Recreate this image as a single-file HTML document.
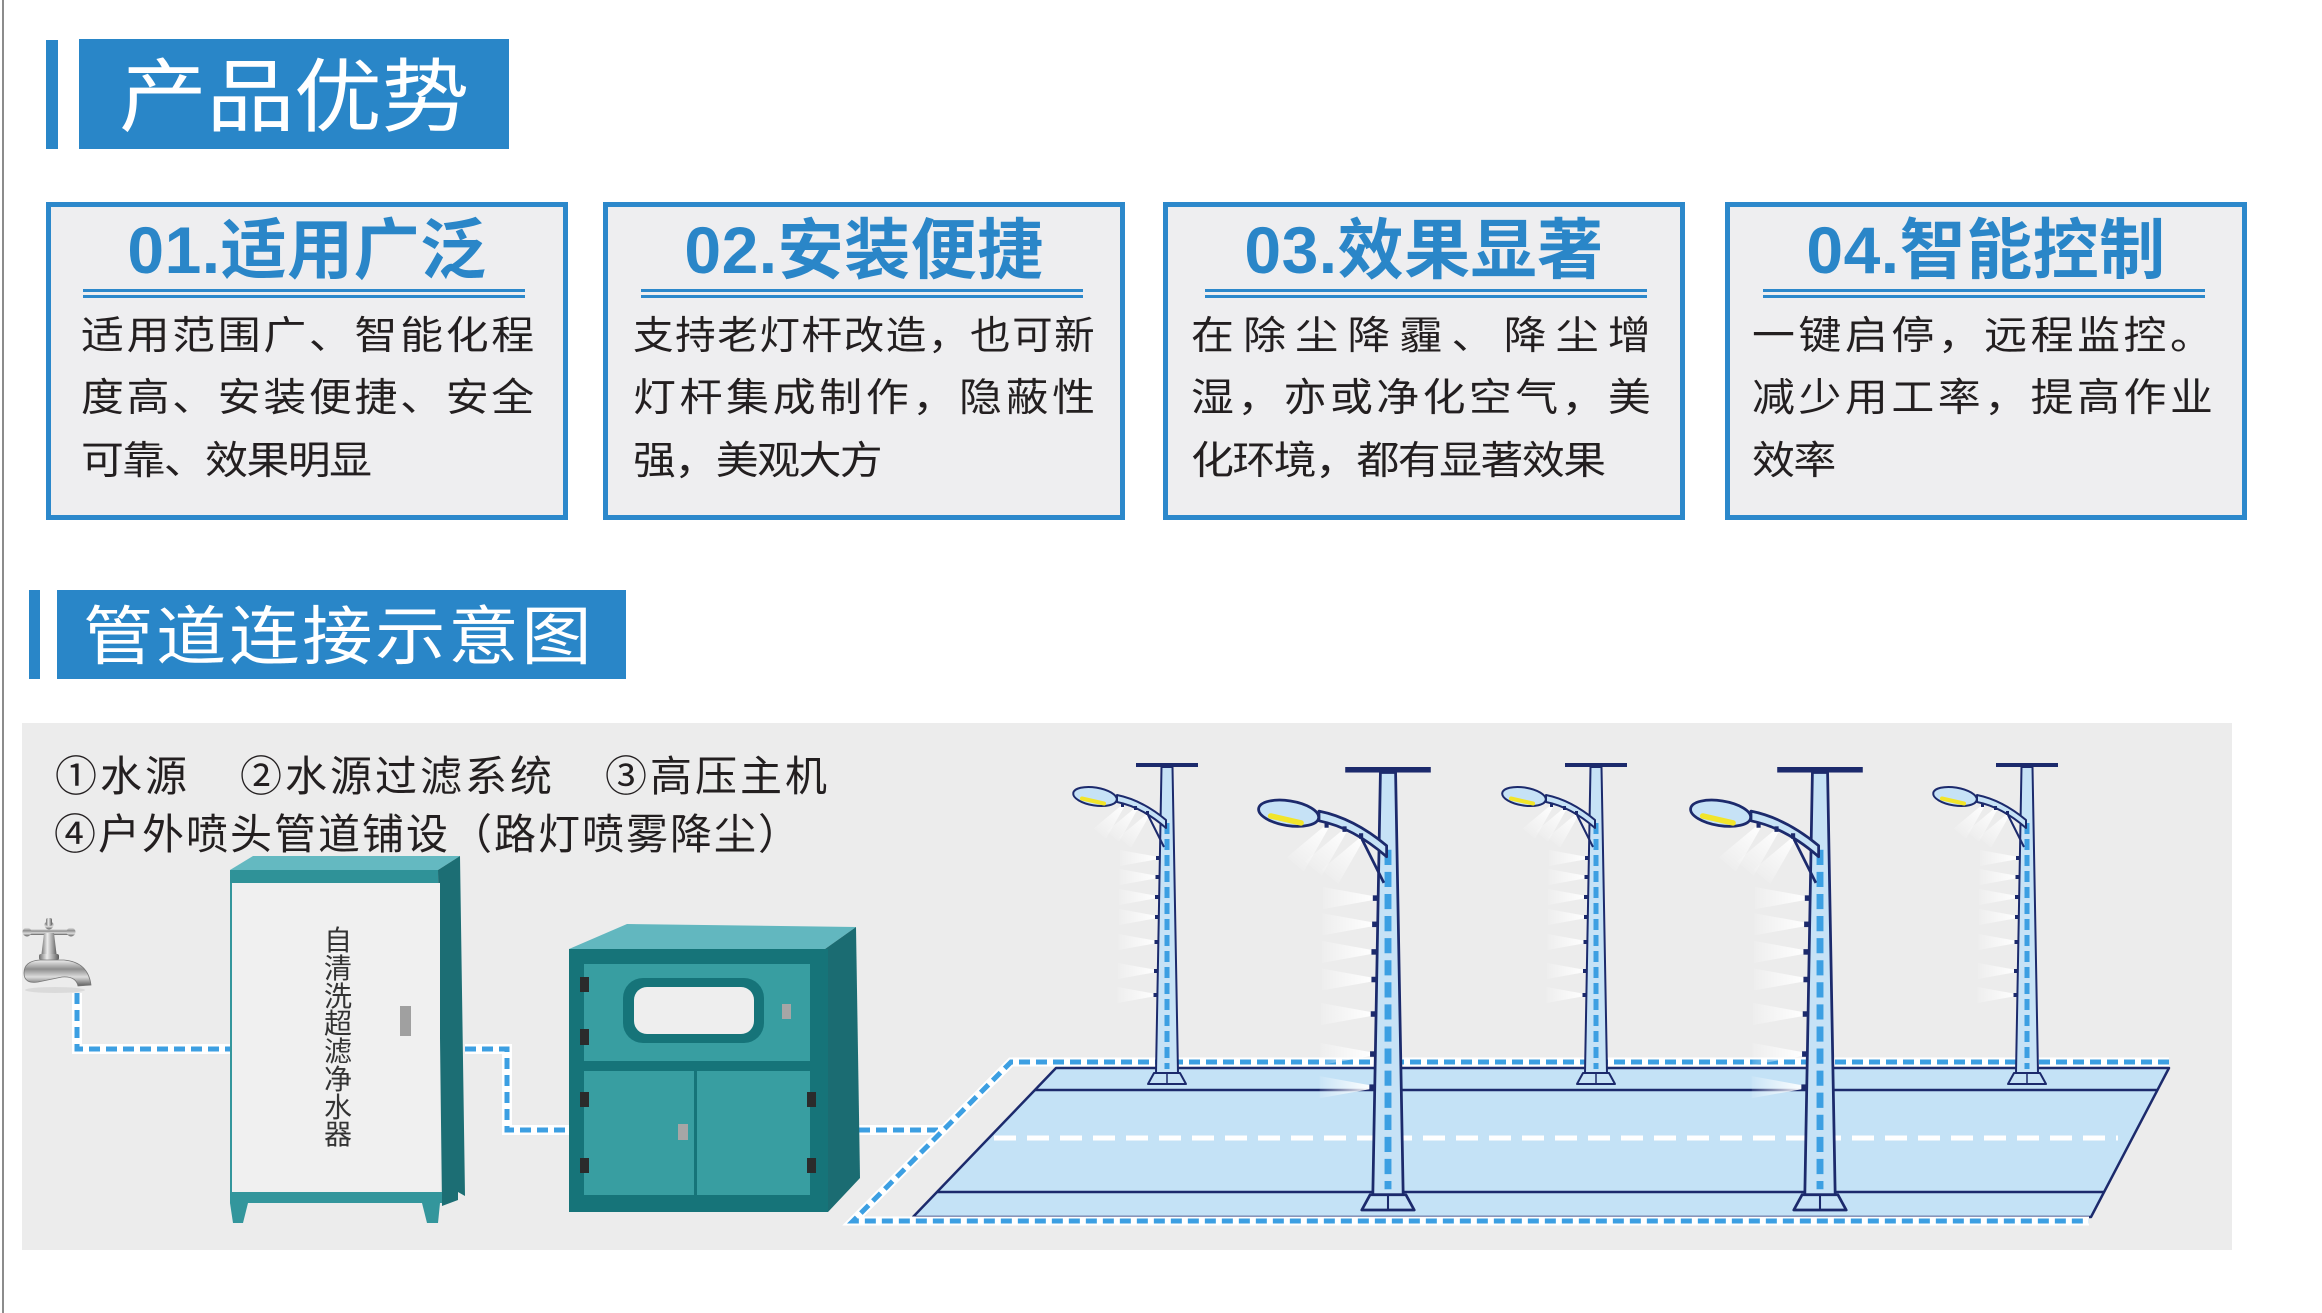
<!DOCTYPE html>
<html><head><meta charset="utf-8">
<style>
html,body{margin:0;padding:0;}
body{width:2322px;height:1313px;position:relative;overflow:hidden;background:#fff;font-family:"Liberation Sans","Noto Sans CJK SC",sans-serif;}
.a{position:absolute;line-height:1;white-space:nowrap;}
.blue{position:absolute;background:#2986c8;}
.card{position:absolute;top:202px;width:512px;height:308px;border:5px solid #2c88cb;background:#eeeef0;}
.ct{position:absolute;top:217px;width:522px;font-size:66px;font-weight:bold;color:#2a86c8;text-align:center;line-height:1;white-space:nowrap;letter-spacing:0.5px;}
.dl{position:absolute;height:3px;background:#2c88cb;width:442px;}
.bt{position:absolute;font-size:39px;line-height:1;color:#231f20;white-space:nowrap;letter-spacing:-1.4px;transform:scaleX(1.1);transform-origin:0 0;}
.j{text-align:justify;text-align-last:justify;white-space:normal;letter-spacing:0;}
.ttl{position:absolute;color:#fff;font-weight:400;line-height:1;white-space:nowrap;transform:scaleX(1.1);transform-origin:0 0;}
.lg{position:absolute;font-size:42px;line-height:1;color:#231f20;white-space:nowrap;letter-spacing:3px;}
</style></head><body>

<svg width="2322" height="1313" style="position:absolute;left:0;top:0" xmlns="http://www.w3.org/2000/svg">
<defs>
 <linearGradient id="sg" x1="1" y1="0" x2="0" y2="0">
  <stop offset="0" stop-color="#fff" stop-opacity="0.95"/>
  <stop offset="1" stop-color="#fff" stop-opacity="0.1"/>
 </linearGradient>
 <linearGradient id="silver" x1="0" y1="0" x2="0" y2="1">
  <stop offset="0" stop-color="#eeeeee"/><stop offset="0.35" stop-color="#8e8e8e"/><stop offset="0.65" stop-color="#dcdcdc"/><stop offset="1" stop-color="#5e5e5e"/>
 </linearGradient>
 <linearGradient id="silverh" x1="0" y1="0" x2="1" y2="0">
  <stop offset="0" stop-color="#6e6e6e"/><stop offset="0.4" stop-color="#ededed"/><stop offset="0.75" stop-color="#9a9a9a"/><stop offset="1" stop-color="#5a5a5a"/>
 </linearGradient>
 <polygon id="spr" points="0,-1.5 0,1.5 -36,8 -36,-8" fill="url(#sg)"/>
 <g id="lamp">
  <use href="#spr" x="-11" y="95"/>
  <use href="#spr" x="-11.5" y="114"/>
  <use href="#spr" x="-12" y="134"/>
  <use href="#spr" x="-12" y="154"/>
  <use href="#spr" x="-12.5" y="179"/>
  <use href="#spr" x="-13" y="208"/>
  <use href="#spr" x="-13.5" y="232"/>
  <use href="#spr" transform="translate(-44,43) rotate(-50)"/>
  <use href="#spr" transform="translate(-31,46) rotate(-50)"/>
  <use href="#spr" transform="translate(-19,52) rotate(-50)"/>
  <rect x="-31" y="0" width="62" height="4" fill="#1c2a6c"/>
  <polygon points="-5.5,4 5.5,4 11,310 -11,310" fill="#c6e2f6" stroke="#1c2a6c" stroke-width="2" stroke-linejoin="round"/>
  <line x1="0" y1="60" x2="0" y2="306" stroke="#3c9fe2" stroke-width="5" stroke-dasharray="11 5"/>
  <path d="M-50,32 Q-25,37 -1,57 L-1,65 Q-25,44 -50,39 Z" fill="#c6e2f6" stroke="#1c2a6c" stroke-width="2" stroke-linejoin="round"/>
  <line x1="-19" y1="52" x2="-3" y2="84" stroke="#1c2a6c" stroke-width="2"/>
  <ellipse cx="-72" cy="33.5" rx="22" ry="9" transform="rotate(9 -72 33.5)" fill="#c6e2f6" stroke="#1c2a6c" stroke-width="2"/>
  <line x1="-85" y1="35.5" x2="-63" y2="40.5" stroke="#f2e52a" stroke-width="4" stroke-linecap="round"/>
  <rect x="-46" y="40" width="3" height="4" fill="#1c2a6c"/>
  <rect x="-33" y="43" width="3" height="4" fill="#1c2a6c"/>
  <rect x="-21" y="48" width="3" height="4" fill="#1c2a6c"/>
  <rect x="-11" y="93" width="4" height="4" fill="#1c2a6c"/>
  <rect x="-11.5" y="112" width="4" height="4" fill="#1c2a6c"/>
  <rect x="-12" y="132" width="4" height="4" fill="#1c2a6c"/>
  <rect x="-12" y="152" width="4" height="4" fill="#1c2a6c"/>
  <rect x="-12.5" y="177" width="4" height="4" fill="#1c2a6c"/>
  <rect x="-13" y="206" width="4" height="4" fill="#1c2a6c"/>
  <rect x="-13.5" y="230" width="4" height="4" fill="#1c2a6c"/>
  <polygon points="-13,310 13,310 19,321 -19,321" fill="#c6e2f6" stroke="#1c2a6c" stroke-width="2" stroke-linejoin="round"/>
  <line x1="0" y1="310" x2="0" y2="321" stroke="#1c2a6c" stroke-width="1.5"/>
 </g>
</defs>

<rect x="2" y="0" width="2" height="1313" fill="#8c8c8c"/>
<rect x="22" y="723" width="2210" height="527" fill="#ececec"/>

<!-- pipes -->
<g fill="none" stroke-linejoin="miter">
 <path d="M77,993 V1049 H230" stroke="#fff" stroke-width="10"/>
 <path d="M77,993 V1049 H230" stroke="#3c9fe2" stroke-width="5" stroke-dasharray="11 6"/>
 <path d="M465,1049 H507 V1130 H569" stroke="#fff" stroke-width="10"/>
 <path d="M465,1049 H507 V1130 H569" stroke="#3c9fe2" stroke-width="5" stroke-dasharray="11 6"/>
 <path d="M859,1130 H942" stroke="#fff" stroke-width="10"/>
 <path d="M859,1130 H942" stroke="#3c9fe2" stroke-width="5" stroke-dasharray="11 6"/>
</g>

<!-- road -->
<polygon points="1056,1068 2169,1068 2091,1217 913,1217" fill="#c4e2f6" stroke="#1c2a6c" stroke-width="2.5" stroke-linejoin="round"/>
<line x1="1035" y1="1090" x2="2157" y2="1090" stroke="#1c2a6c" stroke-width="2.5"/>
<line x1="937" y1="1192" x2="2104" y2="1192" stroke="#1c2a6c" stroke-width="2.5"/>
<line x1="994" y1="1138" x2="2118" y2="1138" stroke="#fff" stroke-width="5" stroke-dasharray="22 11"/>

<!-- dashed outline -->
<g fill="none">
 <path d="M2169,1062 H1011 L853,1221 H2089" stroke="#fff" stroke-width="9"/>
 <path d="M2169,1062 H1011 L853,1221 H2089" stroke="#3c9fe2" stroke-width="5" stroke-dasharray="11 6"/>
</g>

<!-- lamps -->
<use href="#lamp" transform="translate(1167,763)"/>
<use href="#lamp" transform="translate(1388,767) scale(1.38)"/>
<use href="#lamp" transform="translate(1596,763)"/>
<use href="#lamp" transform="translate(1820,767) scale(1.38)"/>
<use href="#lamp" transform="translate(2027,763)"/>

<!-- faucet -->
<g>
 <ellipse cx="55" cy="990" rx="30" ry="3" fill="#cfcfcf" opacity="0.6"/>
 <rect x="25" y="929" width="48" height="6" rx="3" fill="url(#silver)"/>
 <circle cx="27" cy="932" r="4.5" fill="url(#silver)"/>
 <circle cx="71" cy="932" r="4.5" fill="url(#silver)"/>
 <circle cx="49" cy="925" r="4.5" fill="url(#silver)"/>
 <rect x="46" y="918" width="6" height="8" rx="2" fill="url(#silverh)"/>
 <path d="M44,933 L54,933 L57,958 L41,958 Z" fill="url(#silverh)"/>
 <rect x="39" y="954" width="20" height="6" rx="2" fill="url(#silverh)"/>
 <path d="M24,973 Q24,961 40,960 L64,960 Q88,962 91,985 L78,986 Q76,976 62,977 L38,982 Q24,984 24,973 Z" fill="url(#silver)" stroke="#777" stroke-width="0.8"/>
</g>

<!-- cabinet 1 -->
<g>
 <polygon points="230,870 253,856 460,856 438,870" fill="#64b9c1"/>
 <polygon points="438,870 460,856 465,1196 458,1192 458,1200 442,1206" fill="#1c6e74"/>
 <rect x="230" y="870" width="208" height="13" fill="#2f9298"/>
 <rect x="230" y="883" width="210" height="309" fill="#f0f0f0"/>
 <rect x="230" y="883" width="2" height="309" fill="#33969c"/>
 <rect x="230" y="1192" width="212" height="11" fill="#33969c"/>
 <polygon points="230,1203 248,1203 243,1223 233,1223" fill="#33969c"/>
 <polygon points="422,1203 440,1203 438,1223 427,1223" fill="#33969c"/>
 <rect x="400" y="1006" width="11" height="30" fill="#a0a0a0"/>
</g>

<!-- cabinet 2 -->
<g>
 <polygon points="569,949 627,924 856,927 825,949" fill="#62b7bf"/>
 <polygon points="825,949 856,927 860,1178 828,1212" fill="#1b6c72"/>
 <rect x="569" y="949" width="259" height="263" fill="#167479"/>
 <rect x="584" y="964" width="226" height="97" fill="#389ea1"/>
 <rect x="623" y="978" width="141" height="65" rx="20" fill="#167479"/>
 <rect x="634" y="987" width="120" height="47" rx="13" fill="#eeeeee"/>
 <rect x="782" y="1004" width="9" height="15" fill="#a6a6a6"/>
 <rect x="584" y="1071" width="110" height="124" fill="#389ea1"/>
 <rect x="697" y="1071" width="113" height="124" fill="#389ea1"/>
 <rect x="678" y="1124" width="10" height="16" fill="#a6a6a6"/>
 <g fill="#2b2b2b">
  <rect x="580" y="977" width="9" height="15"/>
  <rect x="580" y="1029" width="9" height="16"/>
  <rect x="580" y="1092" width="9" height="15"/>
  <rect x="580" y="1158" width="9" height="15"/>
  <rect x="807" y="1092" width="9" height="15"/>
  <rect x="807" y="1158" width="9" height="15"/>
 </g>
</g>
</svg>

<!-- header 1 -->
<div class="blue" style="left:46px;top:40px;width:12px;height:109px;"></div>
<div class="blue" style="left:79px;top:39px;width:430px;height:110px;"></div>
<div class="ttl" style="left:119px;top:58px;font-size:80px;letter-spacing:-0.5px;">产品优势</div>

<!-- cards -->
<div class="card" style="left:46px;"></div>
<div class="card" style="left:603px;"></div>
<div class="card" style="left:1163px;"></div>
<div class="card" style="left:1725px;"></div>

<div class="ct" style="left:46px;">01.适用广泛</div>
<div class="ct" style="left:603px;">02.安装便捷</div>
<div class="ct" style="left:1163px;">03.效果显著</div>
<div class="ct" style="left:1725px;">04.智能控制</div>

<div class="dl" style="left:83px;top:289px;"></div><div class="dl" style="left:83px;top:295px;height:2.5px;"></div>
<div class="dl" style="left:641px;top:289px;"></div><div class="dl" style="left:641px;top:295px;height:2.5px;"></div>
<div class="dl" style="left:1205px;top:289px;"></div><div class="dl" style="left:1205px;top:295px;height:2.5px;"></div>
<div class="dl" style="left:1763px;top:289px;"></div><div class="dl" style="left:1763px;top:295px;height:2.5px;"></div>

<div class="bt j" style="left:81px;top:317px;width:412px;">适用范围广、智能化程</div>
<div class="bt j" style="left:81px;top:379px;width:412px;">度高、安装便捷、安全</div>
<div class="bt" style="left:81px;top:442px;">可靠、效果明显</div>

<div class="bt j" style="left:633px;top:317px;width:444px;transform:scaleX(1.04);">支持老灯杆改造，也可新</div>
<div class="bt j" style="left:633px;top:379px;width:420px;">灯杆集成制作，隐蔽性</div>
<div class="bt" style="left:633px;top:442px;">强，美观大方</div>

<div class="bt j" style="left:1191px;top:317px;width:418px;">在除尘降霾、降尘增</div>
<div class="bt j" style="left:1191px;top:379px;width:418px;">湿，亦或净化空气，美</div>
<div class="bt" style="left:1191px;top:442px;">化环境，都有显著效果</div>

<div class="bt j" style="left:1752px;top:317px;width:419px;">一键启停，远程监控。</div>
<div class="bt j" style="left:1752px;top:379px;width:419px;">减少用工率，提高作业</div>
<div class="bt" style="left:1752px;top:442px;">效率</div>

<!-- header 2 -->
<div class="blue" style="left:29px;top:590px;width:11px;height:89px;"></div>
<div class="blue" style="left:57px;top:590px;width:569px;height:89px;"></div>
<div class="ttl" style="left:83px;top:605px;font-size:64px;letter-spacing:2.4px;">管道连接示意图</div>

<!-- legend -->
<div class="lg" style="left:55px;top:756px;">①水源</div>
<div class="lg" style="left:240px;top:756px;">②水源过滤系统</div>
<div class="lg" style="left:605px;top:756px;">③高压主机</div>
<div class="lg" style="left:54px;top:814px;letter-spacing:2px;">④户外喷头管道铺设（路灯喷雾降尘）</div>

<!-- cabinet vertical label -->
<div class="a" style="left:323px;top:927px;width:30px;font-size:28px;line-height:27.75px;color:#333;text-align:center;">自<br>清<br>洗<br>超<br>滤<br>净<br>水<br>器</div>

</body></html>
